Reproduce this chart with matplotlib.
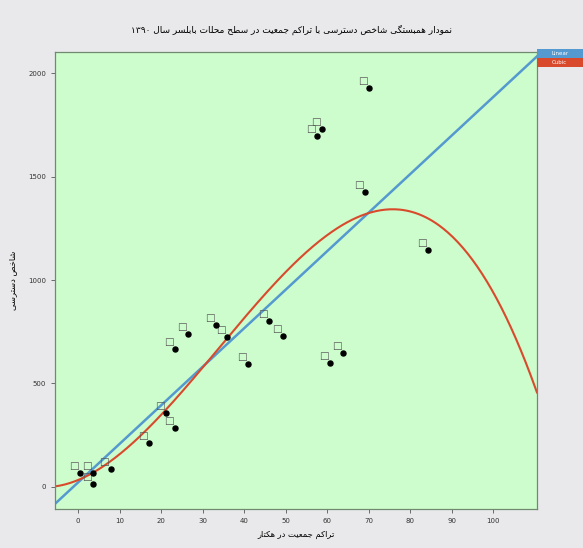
import matplotlib
matplotlib.use("Agg")
import matplotlib.pyplot as plt
from matplotlib.patches import Rectangle
import numpy as np

# population density (per hectare) and access index
density = [0.4, 3.5, 3.5, 7.8, 17.1, 21.1, 23.3, 23.3, 26.4, 33.3, 35.8,
           41.0, 46.0, 49.3, 60.7, 63.9, 57.6, 58.7, 69.1, 70.1, 84.3]
access = [65, 65, 12, 86, 213, 355, 286, 665, 738, 783, 726,
          594, 802, 727, 600, 647, 1697, 1731, 1425, 1930, 1146]

x_ticks = [0, 10, 20, 30, 40, 50, 60, 70, 80, 90, 100]
y_ticks = [0, 500, 1000, 1500, 2000]
legend_labels = ["Linear", "Cubic"]

title = "نمودار همبستگی شاخص دسترسی با تراکم جمعیت در سطح محلات بابلسر سال ۱۳۹۰"
xlabel = "تراکم جمعیت در هکتار"
ylabel = "شاخص دسترسی"

# --- tiny arabic/persian shaper: matplotlib has no complex text layout ---
FORMS = {
    "ا": (0xFE8D, 0xFE8E, None, None), "آ": (0xFE81, 0xFE82, None, None),
    "ب": (0xFE8F, 0xFE90, 0xFE91, 0xFE92), "پ": (0xFB56, 0xFB57, 0xFB58, 0xFB59),
    "ت": (0xFE95, 0xFE96, 0xFE97, 0xFE98), "ث": (0xFE99, 0xFE9A, 0xFE9B, 0xFE9C),
    "ج": (0xFE9D, 0xFE9E, 0xFE9F, 0xFEA0), "چ": (0xFB7A, 0xFB7B, 0xFB7C, 0xFB7D),
    "ح": (0xFEA1, 0xFEA2, 0xFEA3, 0xFEA4), "خ": (0xFEA5, 0xFEA6, 0xFEA7, 0xFEA8),
    "د": (0xFEA9, 0xFEAA, None, None), "ذ": (0xFEAB, 0xFEAC, None, None),
    "ر": (0xFEAD, 0xFEAE, None, None), "ز": (0xFEAF, 0xFEB0, None, None),
    "ژ": (0xFB8A, 0xFB8B, None, None),
    "س": (0xFEB1, 0xFEB2, 0xFEB3, 0xFEB4), "ش": (0xFEB5, 0xFEB6, 0xFEB7, 0xFEB8),
    "ص": (0xFEB9, 0xFEBA, 0xFEBB, 0xFEBC), "ض": (0xFEBD, 0xFEBE, 0xFEBF, 0xFEC0),
    "ط": (0xFEC1, 0xFEC2, 0xFEC3, 0xFEC4), "ظ": (0xFEC5, 0xFEC6, 0xFEC7, 0xFEC8),
    "ع": (0xFEC9, 0xFECA, 0xFECB, 0xFECC), "غ": (0xFECD, 0xFECE, 0xFECF, 0xFED0),
    "ف": (0xFED1, 0xFED2, 0xFED3, 0xFED4), "ق": (0xFED5, 0xFED6, 0xFED7, 0xFED8),
    "ک": (0xFB8E, 0xFB8F, 0xFB90, 0xFB91), "گ": (0xFB92, 0xFB93, 0xFB94, 0xFB95),
    "ل": (0xFEDD, 0xFEDE, 0xFEDF, 0xFEE0), "م": (0xFEE1, 0xFEE2, 0xFEE3, 0xFEE4),
    "ن": (0xFEE5, 0xFEE6, 0xFEE7, 0xFEE8), "و": (0xFEED, 0xFEEE, None, None),
    "ه": (0xFEE9, 0xFEEA, 0xFEEB, 0xFEEC), "ی": (0xFBFC, 0xFBFD, 0xFBFE, 0xFBFF),
}


def shape_word(word):
    out = []
    n = len(word)
    for i, ch in enumerate(word):
        if ch not in FORMS:
            out.append(ch)
            continue
        f = FORMS[ch]
        prev = word[i - 1] if i > 0 else None
        nxt = word[i + 1] if i < n - 1 else None
        join_prev = prev in FORMS and FORMS[prev][2] is not None
        join_next = nxt in FORMS and f[2] is not None
        if join_prev and join_next:
            code = f[3]
        elif join_prev:
            code = f[1]
        elif join_next:
            code = f[2]
        else:
            code = f[0]
        out.append(chr(code))
    return "".join(out)


def rtl(text):
    words = []
    for w in text.split(" "):
        if any(c in FORMS for c in w):
            words.append(shape_word(w)[::-1])
        else:
            words.append(w)
    return " ".join(words[::-1])


fig = plt.figure(figsize=(5.83, 5.48), dpi=100, facecolor="#e9e9eb")
ax = fig.add_axes([0.0943, 0.0712, 0.8267, 0.8338])
ax.set_facecolor("#cdfccd")

x_min, x_max = -5.6, 110.5
ax.set_xlim(x_min, x_max)
ax.set_ylim(-108, 2103)

# fits
xs = np.linspace(x_min, x_max, 300)
lin = np.polyfit(density, access, 1)
cub = np.polyfit(density, access, 3)
ax.plot(xs, np.polyval(lin, xs), color="#5499cf", lw=1.8, zorder=2)
ax.plot(xs, np.polyval(cub, xs), color="#d94a2c", lw=1.5, zorder=2)

ax.scatter(density, access, s=13, color="black", zorder=4)
for xv, yv in zip(density, access):
    ax.annotate("□", (xv, yv), xytext=(-4.5, 5), textcoords="offset points",
                ha="center", va="center", fontsize=7.5, color="#555555", zorder=3)

ax.set_xticks(x_ticks)
ax.set_yticks(y_ticks)
ax.tick_params(labelsize=5, length=3, width=0.6, color="#555555", labelcolor="#333333")
for s in ax.spines.values():
    s.set_color("#6f8a6f")
    s.set_linewidth(0.9)

fig.text(0.5, 0.945, rtl(title), ha="center", va="center", fontsize=6.5,
         family="DejaVu Sans")
ax.set_xlabel(rtl(xlabel), fontsize=6, labelpad=4, family="DejaVu Sans")
ax.set_ylabel(rtl(ylabel), fontsize=6, labelpad=8, family="DejaVu Sans")

# legend boxes on the top-right corner
colors = ["#5499cf", "#d94a2c"]
for i, (lab, c) in enumerate(zip(legend_labels, colors)):
    y0 = 0.895 - i * 0.017
    fig.patches.append(Rectangle((0.921, y0), 0.079, 0.016, transform=fig.transFigure,
                                 facecolor=c, edgecolor="none", figure=fig))
    fig.text(0.96, y0 + 0.008, lab, ha="center", va="center", fontsize=4, color="white")

fig.savefig("out.png", dpi=100, facecolor=fig.get_facecolor())
